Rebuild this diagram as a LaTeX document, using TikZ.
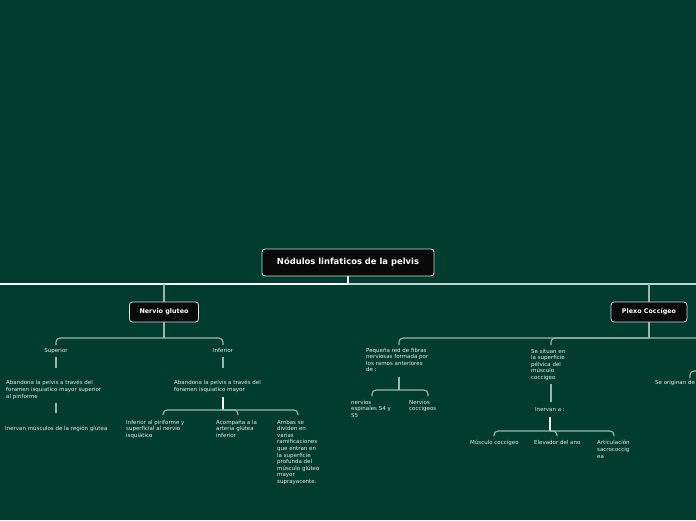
\documentclass[tikz,border=0pt]{standalone}
\usepackage{fontspec}
\setmainfont{DejaVu Sans}
\definecolor{bg}{HTML}{013D2E}
\definecolor{boxfill}{HTML}{0A0A0A}
\definecolor{boxline}{HTML}{D8DEDB}
\definecolor{conncol}{HTML}{9DB5AC}
\definecolor{rightcol}{HTML}{C5D1CC}
\definecolor{txtcol}{HTML}{E6ECE9}
\begin{document}
\begin{tikzpicture}[x=1pt,y=-1pt,
  topbox/.style={draw=boxline, fill=boxfill, rounded corners=3pt, line width=0.9pt, text=white,
    font=\bfseries\fontsize{8.4}{10}\selectfont, minimum width=172pt, minimum height=27pt, inner sep=0pt},
  subbox/.style={draw=boxline, fill=boxfill, rounded corners=3pt, line width=0.8pt, text=white,
    font=\bfseries\fontsize{6.4}{8}\selectfont, minimum height=20pt, inner sep=0pt},
  txt/.style={text=txtcol, font=\fontsize{5.5}{6.6}\selectfont, align=left, inner sep=0pt, anchor=north west},
  ctxt/.style={text=txtcol, font=\fontsize{5.5}{6.6}\selectfont, inner sep=0pt, anchor=north},
  conn/.style={draw=conncol, line width=1.1pt, rounded corners=4pt},
  wconn/.style={draw=white, line width=1.1pt}]
\fill[bg] (0,0) rectangle (696,520);
\useasboundingbox (0,0) rectangle (696,520);
\clip (0,0) rectangle (696,520);

% main nodes
\node[topbox] (title) at (348,262.5) {Nódulos linfaticos de la pelvis};
\node[subbox, minimum width=69pt] (ng) at (164,312) {Nervio gluteo};
\node[subbox, minimum width=76pt] (pc) at (649,312) {Plexo Coccígeo};

% text nodes (top = first baseline - 4.3)
\node[ctxt] (sup) at (56,347.7) {Superior};
\node[ctxt] (inf) at (223,347.7) {Inferior};
\node[txt] (supab) at (6,380.2) {Abandona la pelvis a través del\\foramen isquiatico mayor superior\\al piriforme};
\node[txt] (supin) at (5,425.7) {Inervan músculos de la región glutea};
\node[txt] (infab) at (174,380.2) {Abandona la pelvis a través del\\foramen isquiatico mayor};
\node[txt] (c1) at (126,419.7) {Inferior al piriforme y\\superficial al nervio\\isquiático};
\node[txt] (c2) at (216,419.7) {Acompaña a la\\arteria glútea\\inferior};
\node[txt] (c3) at (277,419.7) {Ambas se\\dividen en\\varias\\ramificaciones\\que entran en\\la superficie\\profunda del\\músculo glúteo\\mayor\\suprayacente.};
\node[txt] (peq) at (366,347.7) {Pequeña red de fibras\\nerviosas formada por\\los ramos anteriores\\de :};
\node[txt] (esp) at (351,399.7) {nervios\\espinales S4 y\\S5};
\node[txt] (coc) at (409,399.7) {Nervios\\coccigeos};
\node[txt] (sit) at (531,348.7) {Se situan en\\la superficie\\pélvica del\\músculo\\coccigeo};
\node[txt] (inv) at (535,407.7) {Inervan a :};
\node[txt] (m1) at (470,440.2) {Músculo coccigeo};
\node[txt] (m2) at (534,440.2) {Elevador del ano};
\node[txt] (m3) at (597,440.2) {Articulación\\sacrococcig\\ea};
\node[txt] (ori) at (655,380.2) {Se originan de};

% coordinates
\coordinate (mL) at (0,284);
\coordinate (mT) at (348,284);
\coordinate (mR) at (700,284);
\coordinate (ngT) at (164,284);
\coordinate (pcT) at (649,284);
\coordinate (ngJ) at (164,338);
\coordinate (supT) at (56,345);
\coordinate (infT) at (223,345);
\coordinate (s1a) at (56,357); \coordinate (s1b) at (56,368);
\coordinate (s2a) at (56,403); \coordinate (s2b) at (56,413);
\coordinate (i1a) at (223,357); \coordinate (i1b) at (223,368);
\coordinate (i2a) at (223,397); \coordinate (i2J) at (223,410);
\coordinate (c1T) at (163,415); \coordinate (c2T) at (238,415); \coordinate (c3T) at (298,415);
\coordinate (pcJ) at (649,338); \coordinate (pcR) at (700,338);
\coordinate (peqT) at (399,345); \coordinate (sitT) at (551,345);
\coordinate (p1a) at (399,377); \coordinate (p1J) at (399,390);
\coordinate (espT) at (372,396); \coordinate (cocT) at (428,396);
\coordinate (t1a) at (551,384); \coordinate (t1b) at (551,402);
\coordinate (v1a) at (550,417); \coordinate (v1J) at (550,431);
\coordinate (m1T) at (494,436); \coordinate (m2T) at (557,436); \coordinate (m3T) at (614,436);
\coordinate (oriT) at (690,378); \coordinate (oriR) at (700,371);

% connectors
\draw[wconn] (title.south) -- (mT);
\draw[draw=white, line width=1.7pt] (mL) -- (mT);
\draw[draw=rightcol, line width=1.7pt] (mT) -- (mR);
\draw[conn] (ngT) -- (ng.north);
\draw[conn] (pcT) -- (pc.north);
\draw[conn] (ng.south) -- (ngJ);
\draw[conn] (supT) |- (ngJ) -| (infT);
\draw[conn] (s1a) -- (s1b);
\draw[conn] (s2a) -- (s2b);
\draw[conn] (i1a) -- (i1b);
\draw[wconn] (i2a) -- (i2J);
\draw[conn] (c1T) |- (i2J) -| (c3T);
\draw[conn] (i2J) -| (c2T);
\draw[conn] (pc.south) -- (pcJ);
\draw[conn] (peqT) |- (pcJ) -- (pcR);
\draw[conn] (sitT) |- (pcJ);
\draw[conn] (p1a) -- (p1J);
\draw[conn] (espT) |- (p1J) -| (cocT);
\draw[conn] (t1a) -- (t1b);
\draw[wconn] (v1a) -- (v1J);
\draw[conn] (m1T) |- (v1J) -| (m3T);
\draw[conn] (v1J) -| (m2T);
\draw[conn] (oriT) |- (oriR);
\end{tikzpicture}
\end{document}
